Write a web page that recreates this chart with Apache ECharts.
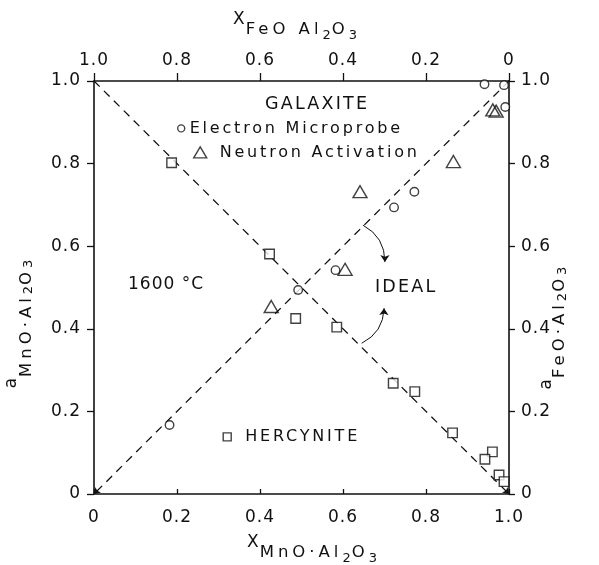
<!DOCTYPE html>
<html>
<head>
<meta charset="utf-8">
<script src="https://cdn.jsdelivr.net/npm/echarts@6/dist/echarts.min.js"></script>
<style>
  html, body { margin: 0; padding: 0; background: #fff; }
  #chart { width: 599px; height: 565px; }
</style>
</head>
<body>
<div id="chart"></div>
<script>
// Galaxite (MnO·Al2O3) – hercynite (FeO·Al2O3) activities at 1600 °C

// Electron microprobe: X(MnO·Al2O3) vs a(MnO·Al2O3)
const microprobeX = [0.182, 0.492, 0.582, 0.723, 0.772, 0.941, 0.988, 0.991];
const microprobeA = [0.167, 0.494, 0.542, 0.694, 0.732, 0.992, 0.990, 0.937];

// Neutron activation: X(MnO·Al2O3) vs a(MnO·Al2O3)
const neutronX = [0.427, 0.605, 0.641, 0.866, 0.961, 0.969];
const neutronA = [0.454, 0.544, 0.732, 0.805, 0.930, 0.927];

// Hercynite: X(MnO·Al2O3) vs a(FeO·Al2O3)
const hercyniteX = [0.187, 0.423, 0.486, 0.585, 0.721, 0.773, 0.864, 0.960, 0.942, 0.976, 0.988];
const hercyniteA = [0.802, 0.581, 0.425, 0.404, 0.268, 0.248, 0.148, 0.102, 0.084, 0.046, 0.030];

// Ideal (Raoultian) solution lines, drawn towards the arrow-headed end
const idealGalaxite = [[1, 1], [0, 0]];
const idealHercynite = [[0, 1], [1, 0]];

// "IDEAL" pointer arcs: start / end in axis units
const idealArrowUpper = [[0.648, 0.651], [0.701, 0.562]];
const idealArrowLower = [[0.645, 0.365], [0.699, 0.450]];

// Axis tick values
const tickValues = [0, 0.2, 0.4, 0.6, 0.8, 1.0];

// Wide, spaced-out lettering: extra letter spacing chosen by font size
const LETTER_SPACING = { '13': '1px', '16': '2.8px', '16.5': '4px', '17': '1px', '17.5': '2.2px' };
(function () {
  const P = CanvasRenderingContext2D.prototype;
  if (!('letterSpacing' in P)) return;
  const setSpacing = ctx => {
    const m = /(\d+(?:\.\d+)?)px/.exec(ctx.font);
    ctx.letterSpacing = (m && LETTER_SPACING[m[1]]) || '0px';
  };
  const fill = P.fillText, stroke = P.strokeText, measure = P.measureText;
  P.fillText = function () { setSpacing(this); return fill.apply(this, arguments); };
  P.strokeText = function () { setSpacing(this); return stroke.apply(this, arguments); };
  P.measureText = function () { setSpacing(this); return measure.apply(this, arguments); };
})();

const zip = (xs, ys) => xs.map((x, i) => [x, ys[i]]);
const fmt = v => (tickValues.indexOf(v) === 0 ? '0' : v.toFixed(1));

const FONT = 'DejaVu Sans';
const INK = '#111';

const nameRich = (subPad, subSubPad) => ({
  m: { fontFamily: FONT, fontSize: 17, color: INK, verticalAlign: 'top' },
  s: { fontFamily: FONT, fontSize: 16.5, color: INK, verticalAlign: 'top', padding: [subPad, 0, 0, 0] },
  t: { fontFamily: FONT, fontSize: 13, color: INK, verticalAlign: 'top', padding: [subSubPad, 0, 0, 0] }
});

const axisLine = { show: true, onZero: false, lineStyle: { color: INK, width: 1.6 } };
const labelStyle = { fontFamily: FONT, fontSize: 17, color: INK, formatter: fmt };
const dashed = { color: INK, width: 1.3, type: [8, 6], opacity: 1, curveness: 0 };

const chart = echarts.init(document.getElementById('chart'), null, { renderer: 'canvas' });

chart.setOption({
  animation: false,
  backgroundColor: '#fff',
  grid: { left: 94, top: 81, width: 415, height: 413, containLabel: false, outerBoundsMode: 'none' },
  xAxis: [
    {
      type: 'value', position: 'bottom', min: 0, max: 1, interval: 0.2,
      axisLine, splitLine: { show: false },
      axisTick: { inside: true, length: 5, lineStyle: { color: INK, width: 1.3 } },
      axisLabel: { ...labelStyle, margin: 15 },
      name: '{m|X}{s|MnO·Al}{t|2}{s|O}{t|3}',
      nameLocation: 'middle', nameGap: 40, nameMoveOverlap: false,
      nameTextStyle: { rich: nameRich(8, 18), padding: [0, 0, 0, 22] }
    },
    {
      type: 'value', position: 'top', inverse: true, min: 0, max: 1, interval: 0.2,
      axisLine, splitLine: { show: false },
      axisTick: { inside: false, length: 8, lineStyle: { color: INK, width: 1.3 } },
      axisLabel: { ...labelStyle, margin: 11 },
      name: '{m|X}{s|FeO Al}{t|2}{s|O}{t|3}',
      nameLocation: 'middle', nameGap: 38, nameMoveOverlap: false,
      nameTextStyle: { rich: nameRich(8, 18), padding: [0, 12, 0, 0] }
    }
  ],
  yAxis: [
    {
      type: 'value', position: 'left', min: 0, max: 1, interval: 0.2,
      axisLine, splitLine: { show: false },
      axisTick: { inside: false, length: 7, lineStyle: { color: INK, width: 1.3 } },
      axisLabel: { ...labelStyle, margin: 13 },
      name: '{m|a}{s|MnO·Al}{t|2}{s|O}{t|3}',
      nameLocation: 'middle', nameRotate: 90, nameGap: 57, nameMoveOverlap: false,
      nameTextStyle: { rich: nameRich(13, 19), padding: [0, 72, 0, 0] }
    },
    {
      type: 'value', position: 'right', min: 0, max: 1, interval: 0.2,
      axisLine, splitLine: { show: false },
      axisTick: { inside: false, length: 6, lineStyle: { color: INK, width: 1.3 } },
      axisLabel: { ...labelStyle, margin: 12 },
      name: '{m|a}{s|FeO·Al}{t|2}{s|O}{t|3}',
      nameLocation: 'middle', nameRotate: 90, nameGap: 29, nameMoveOverlap: false,
      nameTextStyle: { rich: nameRich(11, 18), padding: [0, 80, 0, 0] }
    }
  ],
  legend: [
    {
      data: ['Electron Microprobe'], left: 177, top: 119, padding: 0, selectedMode: false,
      icon: 'circle', itemWidth: 7, itemHeight: 7,
      itemStyle: { color: 'rgba(0,0,0,0)', borderColor: INK, borderWidth: 1.4 },
      textStyle: { fontFamily: FONT, fontSize: 16, color: INK }
    },
    {
      data: ['Neutron Activation'], left: 193, top: 143, padding: 0, selectedMode: false,
      icon: 'triangle', itemWidth: 13, itemHeight: 11,
      itemStyle: { color: 'rgba(0,0,0,0)', borderColor: INK, borderWidth: 1.4 },
      textStyle: { fontFamily: FONT, fontSize: 16, color: INK, padding: [0, 0, 0, 8] }
    },
    {
      data: ['HERCYNITE'], left: 222.5, top: 427.5, padding: 0, selectedMode: false,
      icon: 'rect', itemWidth: 8, itemHeight: 8,
      itemStyle: { color: 'rgba(0,0,0,0)', borderColor: INK, borderWidth: 1.4 },
      textStyle: { fontFamily: FONT, fontSize: 16, color: INK, padding: [0, 0, 0, 9] }
    }
  ],
  graphic: [
    { type: 'text', left: 265, top: 94, style: { text: 'GALAXITE', font: '17.5px "DejaVu Sans"', fill: INK } },
    { type: 'text', left: 128, top: 276, style: { text: '1600 °C', font: '17px "DejaVu Sans"', fill: INK } },
    { type: 'text', left: 375, top: 277, style: { text: 'IDEAL', font: '17.5px "DejaVu Sans"', fill: INK } }
  ],
  series: [
    {
      name: 'ideal galaxite', type: 'lines', coordinateSystem: 'cartesian2d',
      xAxisIndex: 0, yAxisIndex: 0, silent: true,
      symbol: ['none', 'arrow'], symbolSize: 6,
      lineStyle: dashed,
      data: [{ coords: idealGalaxite }]
    },
    {
      name: 'ideal hercynite', type: 'lines', coordinateSystem: 'cartesian2d',
      xAxisIndex: 0, yAxisIndex: 1, silent: true,
      symbol: ['none', 'arrow'], symbolSize: 6,
      lineStyle: dashed,
      data: [{ coords: idealHercynite }]
    },
    {
      name: 'Electron Microprobe', type: 'scatter', xAxisIndex: 0, yAxisIndex: 0,
      data: zip(microprobeX, microprobeA), symbol: 'circle', symbolSize: 8.5,
      itemStyle: { color: '#fff', borderColor: INK, borderWidth: 1.4 }
    },
    {
      name: 'Neutron Activation', type: 'scatter', xAxisIndex: 0, yAxisIndex: 0,
      data: zip(neutronX, neutronA), symbol: 'triangle', symbolSize: [14, 12],
      itemStyle: { color: 'rgba(255,255,255,0)', borderColor: INK, borderWidth: 1.4 }
    },
    {
      name: 'HERCYNITE', type: 'scatter', xAxisIndex: 0, yAxisIndex: 1,
      data: zip(hercyniteX, hercyniteA), symbol: 'rect', symbolSize: 9.5,
      itemStyle: { color: '#fff', borderColor: INK, borderWidth: 1.4 }
    },
    {
      name: 'ideal pointers', type: 'lines', coordinateSystem: 'cartesian2d',
      xAxisIndex: 0, yAxisIndex: 0, silent: true,
      symbol: ['none', 'arrow'], symbolSize: 7,
      lineStyle: { color: INK, width: 1, opacity: 1 },
      data: [
        { coords: idealArrowUpper, lineStyle: { curveness: 0.3 } },
        { coords: idealArrowLower, lineStyle: { curveness: -0.3 } }
      ]
    }
  ]
});
</script>
</body>
</html>
